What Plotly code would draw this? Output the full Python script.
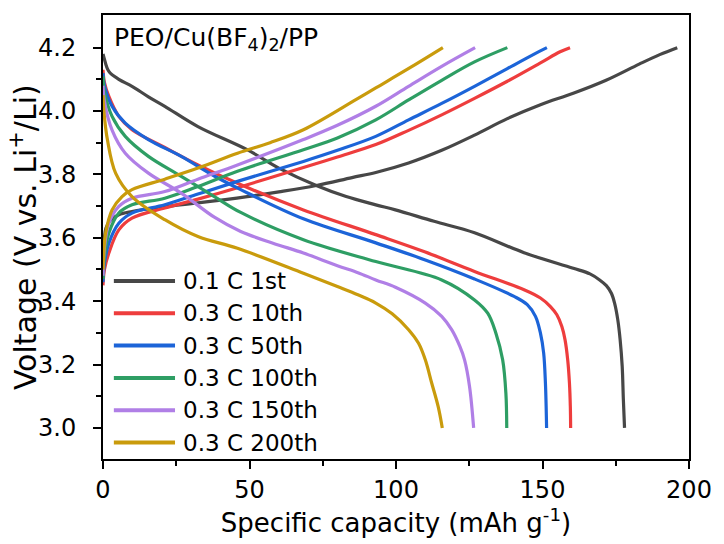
import plotly.graph_objects as go

# 0.1 C, 1st cycle
dis_1st_cap = [0, 0.3, 2, 5.4, 9.9, 15.5, 21.1, 32.4, 49.2, 60, 72.8, 83, 93.1, 99.8, 113, 126.8, 143.7, 160.5, 166.2, 169.5, 171.8, 173.5, 174.6, 175.7, 176.5, 177.2, 177.6, 178]
dis_1st_v = [4.18, 4.17, 4.125, 4.10, 4.078, 4.045, 4.015, 3.951, 3.878, 3.82, 3.765, 3.73, 3.704, 3.688, 3.652, 3.616, 3.553, 3.504, 3.486, 3.467, 3.449, 3.425, 3.394, 3.341, 3.278, 3.194, 3.089, 3.0]
chg_1st_cap = [0, 0.4, 1, 2.5, 5.4, 9.9, 21.1, 32.4, 49.2, 60, 72.8, 85, 93.1, 104.3, 115.6, 126.8, 138, 149.3, 160.5, 171.7, 183, 190, 196]
chg_1st_v = [3.53, 3.59, 3.63, 3.655, 3.673, 3.683, 3.698, 3.71, 3.73, 3.745, 3.765, 3.79, 3.806, 3.836, 3.876, 3.924, 3.976, 4.02, 4.056, 4.097, 4.148, 4.178, 4.2]

# 0.3 C, 10th cycle
dis_10th_cap = [0, 0.5, 2, 5.4, 9.9, 21.1, 32.4, 45.9, 68.4, 93.1, 110, 126.8, 143.7, 149.3, 152.7, 154.9, 156.6, 157.7, 158.6, 159.2, 159.5, 159.6]
dis_10th_v = [4.13, 4.09, 4.046, 3.983, 3.941, 3.885, 3.83, 3.772, 3.688, 3.61, 3.555, 3.494, 3.436, 3.41, 3.383, 3.357, 3.32, 3.278, 3.215, 3.141, 3.067, 3.0]
chg_10th_cap = [0, 0.5, 2, 5.4, 9.9, 21.1, 32.4, 45.9, 68.4, 80, 93.1, 104.3, 115.6, 126.8, 138, 149.3, 156, 159.4]
chg_10th_v = [3.45, 3.50, 3.552, 3.625, 3.662, 3.694, 3.722, 3.758, 3.822, 3.855, 3.894, 3.939, 3.988, 4.04, 4.094, 4.152, 4.187, 4.2]

# 0.3 C, 50th cycle
dis_50th_cap = [0, 0.5, 3.1, 7.6, 15.5, 26.7, 38, 47, 68.4, 93.1, 110, 126.8, 140.3, 144.8, 147.6, 149.3, 150.4, 151, 151.4]
dis_50th_v = [4.12, 4.08, 4.015, 3.962, 3.91, 3.857, 3.795, 3.752, 3.66, 3.584, 3.53, 3.47, 3.415, 3.389, 3.352, 3.299, 3.236, 3.141, 3.0]
chg_50th_cap = [0, 0.5, 2, 5.4, 9.9, 21.1, 32.4, 45.9, 68.4, 80, 93.1, 104.3, 115.6, 126.8, 138, 147, 151.5]
chg_50th_v = [3.46, 3.52, 3.583, 3.646, 3.678, 3.704, 3.738, 3.778, 3.841, 3.876, 3.92, 3.972, 4.024, 4.078, 4.134, 4.179, 4.2]

# 0.3 C, 100th cycle
dis_100th_cap = [0, 0.5, 3.1, 7.6, 15.5, 26.7, 38, 47, 68.4, 93.1, 115.6, 126.8, 131.3, 134.1, 136.4, 137.5, 137.8]
dis_100th_v = [4.11, 4.06, 3.983, 3.92, 3.857, 3.794, 3.73, 3.68, 3.594, 3.525, 3.467, 3.404, 3.362, 3.299, 3.215, 3.11, 3.0]
chg_100th_cap = [0, 0.5, 2, 5.4, 9.9, 21.1, 32.4, 45.9, 68.4, 80, 93.1, 104.3, 115.6, 126.8, 138]
chg_100th_v = [3.47, 3.54, 3.615, 3.678, 3.704, 3.725, 3.762, 3.81, 3.878, 3.915, 3.972, 4.035, 4.097, 4.155, 4.2]

# 0.3 C, 150th cycle
dis_150th_cap = [0, 0.5, 3.1, 7.6, 15.5, 26.7, 38, 47, 58, 68.4, 80, 87, 93.1, 99.8, 110, 115.6, 119, 121.8, 123.4, 125.1, 126.5]
dis_150th_v = [4.08, 4.03, 3.94, 3.867, 3.804, 3.741, 3.665, 3.62, 3.583, 3.552, 3.512, 3.49, 3.467, 3.444, 3.394, 3.352, 3.31, 3.257, 3.215, 3.131, 3.0]
chg_150th_cap = [0, 0.5, 2, 5.4, 9.9, 21.1, 32.4, 45.9, 68.4, 80, 93.1, 104.3, 115.6, 127]
chg_150th_v = [3.48, 3.57, 3.646, 3.699, 3.725, 3.746, 3.785, 3.83, 3.91, 3.955, 4.015, 4.078, 4.141, 4.2]

# 0.3 C, 200th cycle
dis_200th_cap = [0, 0.3, 1.5, 4.3, 9.9, 21.1, 32.4, 45.9, 68.4, 80, 87, 93.1, 98.7, 104.3, 107.7, 110, 112.2, 114.4, 115.8]
dis_200th_v = [4.05, 4.0, 3.91, 3.804, 3.73, 3.657, 3.604, 3.567, 3.488, 3.446, 3.42, 3.394, 3.36, 3.31, 3.267, 3.215, 3.141, 3.067, 3.0]
chg_200th_cap = [0, 0.3, 0.9, 3.1, 6.5, 9.9, 21.1, 32.4, 45.9, 57, 68.4, 86.3, 93.1, 104.5, 116]
chg_200th_v = [3.50, 3.56, 3.615, 3.688, 3.73, 3.752, 3.785, 3.82, 3.867, 3.90, 3.941, 4.036, 4.073, 4.135, 4.2]

series_names = ["0.1 C 1st", "0.3 C 10th", "0.3 C 50th", "0.3 C 100th", "0.3 C 150th", "0.3 C 200th"]
series_colors = ["#474747", "#ee3d3d", "#1c64d8", "#2e9e64", "#b07fe6", "#c99b0c"]

voltage_ticks = [3.0, 3.2, 3.4, 3.6, 3.8, 4.0, 4.2]
capacity_ticks = [0, 50, 100, 150, 200]

curves = [
    (dis_1st_cap, dis_1st_v, chg_1st_cap, chg_1st_v),
    (dis_10th_cap, dis_10th_v, chg_10th_cap, chg_10th_v),
    (dis_50th_cap, dis_50th_v, chg_50th_cap, chg_50th_v),
    (dis_100th_cap, dis_100th_v, chg_100th_cap, chg_100th_v),
    (dis_150th_cap, dis_150th_v, chg_150th_cap, chg_150th_v),
    (dis_200th_cap, dis_200th_v, chg_200th_cap, chg_200th_v),
]

FONT = "DejaVu Sans, Arial, sans-serif"

fig = go.Figure()
for name, color, (dc, dv, cc, cv) in zip(series_names, series_colors, curves):
    for xs, ys in ((dc, dv), (cc, cv)):
        fig.add_trace(go.Scatter(
            x=xs, y=ys, mode="lines", name=name, legendgroup=name,
            line=dict(color=color, width=3.2, shape="spline", smoothing=1.0),
            showlegend=False,
        ))

axis_common = dict(
    showline=True, linecolor="black", linewidth=2, mirror=True,
    ticks="outside", ticklen=8, tickwidth=2, tickcolor="black",
    showgrid=False, zeroline=False,
    tickfont=dict(family=FONT, size=24, color="black"),
)

fig.update_xaxes(
    range=[0, 200], tickvals=capacity_ticks,
    minor=dict(tickvals=[25, 75, 125, 175], ticks="outside", ticklen=5, tickwidth=2, tickcolor="black"),
    title=dict(text="Specific capacity (mAh g<sup>-1</sup>)", font=dict(family=FONT, size=26, color="black"), standoff=5),
    **axis_common,
)
fig.update_yaxes(
    range=[2.902, 4.303], tickvals=voltage_ticks, tickformat=".1f",
    ticklabelstandoff=12,
    minor=dict(tickvals=[3.1, 3.3, 3.5, 3.7, 3.9, 4.1], ticks="outside", ticklen=5, tickwidth=2, tickcolor="black"),
    **axis_common,
)

PLOT_L, PLOT_W, PLOT_T, PLOT_H = 103, 594, 15, 444
def px_to_paper(px, py):
    return (px - PLOT_L) / PLOT_W, 1 - (py - PLOT_T) / PLOT_H

# vertical axis title, placed beside the tick labels
yt_x, yt_y = px_to_paper(22, 237)
fig.add_annotation(
    xref="paper", yref="paper", x=yt_x, y=yt_y, xanchor="center", yanchor="middle",
    text="Voltage (V vs. Li<sup>+</sup>/Li)", textangle=-90, showarrow=False,
    font=dict(family=FONT, size=30, color="black"),
)

# sample label inside the frame
fig.add_annotation(
    xref="paper", yref="paper", x=0.016, y=0.946, xanchor="left", yanchor="middle",
    text="PEO/Cu(BF<sub>4</sub>)<sub>2</sub>/PP", showarrow=False,
    font=dict(family=FONT, size=25, color="black"),
)

# legend: long line swatches with labels, stacked in the lower-left corner
legend_rows_py = [281, 313.3, 345.6, 377.9, 410.2, 442.5]
for name, color, py in zip(series_names, series_colors, legend_rows_py):
    x0, y0 = px_to_paper(114, py)
    x1, _ = px_to_paper(176, py)
    fig.add_shape(type="line", xref="paper", yref="paper", x0=x0, x1=x1, y0=y0, y1=y0,
                  line=dict(color=color, width=4))
    tx, ty = px_to_paper(182, py)
    fig.add_annotation(xref="paper", yref="paper", x=tx, y=ty, xanchor="left", yanchor="middle",
                       text=name, showarrow=False, font=dict(family=FONT, size=23, color="black"))

fig.update_layout(
    width=724, height=544,
    margin=dict(l=103, r=26, t=15, b=85),
    paper_bgcolor="white", plot_bgcolor="white",
    showlegend=False,
)

fig.write_html("out.html")
